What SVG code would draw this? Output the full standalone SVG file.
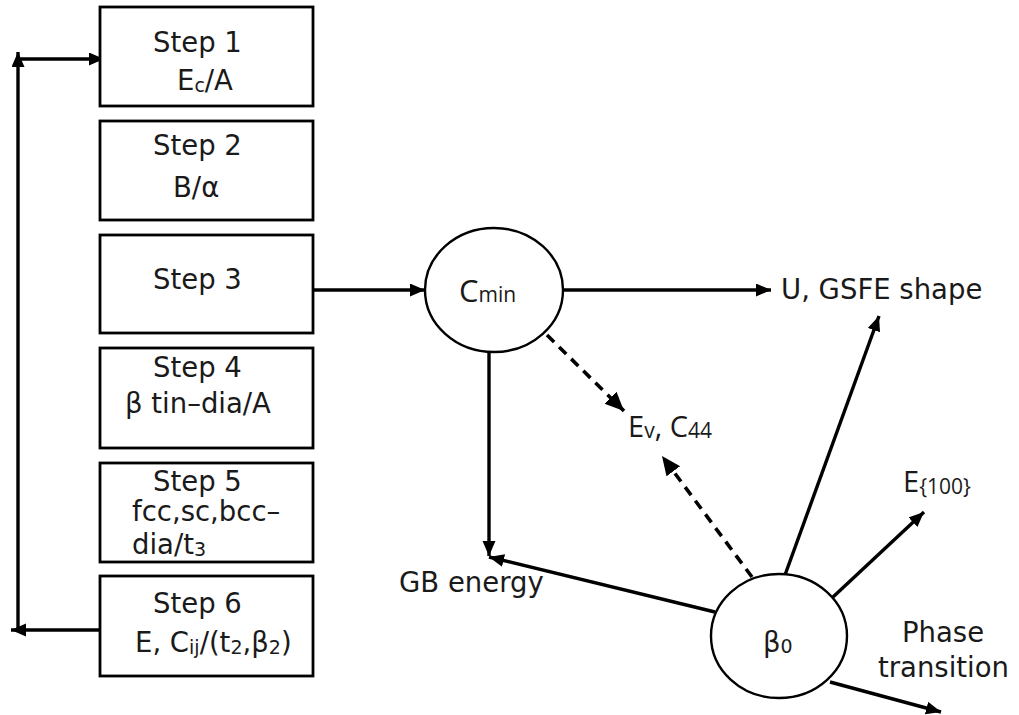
<svg xmlns="http://www.w3.org/2000/svg" width="1019" height="715" viewBox="0 0 1019 715">
  <style>
    .box { fill: #fff; stroke: #000; stroke-width: 2.8; }
    .node { fill: #fff; stroke: #000; stroke-width: 2.4; }
    .lbl { font-family: "DejaVu Sans", "Liberation Sans", sans-serif; font-size: 27.5px; fill: #1a1a1a; }
    .gill { font-family: "Open Sans", "DejaVu Sans", sans-serif; font-size: 29px; fill: #1a1a1a; }
    .sub { font-size: 19px; }
    .gsub { font-size: 21px; }
    .wire { fill: none; stroke: #000; stroke-width: 3.4; }
    .dash { fill: none; stroke: #000; stroke-width: 3.6; stroke-dasharray: 10 7; }
  </style>
  <defs>
    <marker id="arrow" markerUnits="userSpaceOnUse" markerWidth="17" markerHeight="15" refX="15" refY="6.5" orient="auto">
      <path d="M0,0 L15,6.5 L0,13 Z" fill="#000"/>
    </marker>
    <marker id="arrowBig" markerUnits="userSpaceOnUse" markerWidth="21" markerHeight="19" refX="19" refY="8.5" orient="auto">
      <path d="M0,0 L19,8.5 L0,17 Z" fill="#000"/>
    </marker>
  </defs>

  <rect width="1019" height="715" fill="#fff"/>

  <!-- connectors -->
  <g id="connectors">
    <!-- feedback loop from step 6 back to step 1 -->
    <line class="wire" x1="100" y1="630" x2="11" y2="630" marker-end="url(#arrow)"/>
    <line class="wire" x1="18" y1="631" x2="18" y2="52" marker-end="url(#arrow)"/>
    <line class="wire" x1="17" y1="59" x2="104" y2="59" marker-end="url(#arrow)"/>
    <!-- step 3 to C_min -->
    <line class="wire" x1="313" y1="290" x2="425" y2="290" marker-end="url(#arrow)"/>
    <!-- C_min outputs -->
    <line class="wire" x1="563" y1="290" x2="771" y2="290" marker-end="url(#arrow)"/>
    <line class="wire" x1="489" y1="353" x2="489" y2="556" marker-end="url(#arrow)"/>
    <line class="dash" x1="547" y1="335" x2="624" y2="411" marker-end="url(#arrowBig)"/>
    <!-- beta_0 outputs -->
    <line class="wire" x1="715" y1="612" x2="489" y2="557" marker-end="url(#arrow)"/>
    <line class="dash" x1="752" y1="577" x2="662" y2="456" marker-end="url(#arrowBig)"/>
    <line class="wire" x1="785" y1="575" x2="879" y2="316" marker-end="url(#arrow)"/>
    <line class="wire" x1="833" y1="597" x2="924" y2="512" marker-end="url(#arrow)"/>
    <line class="wire" x1="830" y1="682" x2="941" y2="712" marker-end="url(#arrow)"/>
  </g>

  <!-- step boxes -->
  <g id="step1">
    <rect class="box" x="100" y="7" width="213" height="99"/>
    <text class="lbl" x="153" y="52">Step 1</text>
    <text class="lbl" x="177" y="90">E<tspan class="sub" dy="2">c</tspan><tspan dy="-2">/A</tspan></text>
  </g>
  <g id="step2">
    <rect class="box" x="100" y="121" width="213" height="99"/>
    <text class="lbl" x="153" y="155">Step 2</text>
    <text class="lbl" x="173" y="197">B/α</text>
  </g>
  <g id="step3">
    <rect class="box" x="100" y="235" width="213" height="98"/>
    <text class="lbl" x="153" y="289">Step 3</text>
  </g>
  <g id="step4">
    <rect class="box" x="100" y="348" width="213" height="100"/>
    <text class="lbl" x="153" y="377">Step 4</text>
    <text class="lbl" x="125" y="413">β tin–dia/A</text>
  </g>
  <g id="step5">
    <rect class="box" x="100" y="463" width="213" height="99"/>
    <text class="lbl" x="153" y="491">Step 5</text>
    <text class="lbl" x="132" y="521">fcc,sc,bcc–</text>
    <text class="lbl" x="132" y="554">dia/t<tspan class="sub" dy="2">3</tspan></text>
  </g>
  <g id="step6">
    <rect class="box" x="100" y="576" width="213" height="100"/>
    <text class="lbl" x="153" y="613">Step 6</text>
    <text class="lbl" x="135" y="652">E, C<tspan class="sub" dy="2">ij</tspan><tspan dy="-2">/(t</tspan><tspan class="sub" dy="2">2</tspan><tspan dy="-2">,β</tspan><tspan class="sub" dy="2">2</tspan><tspan dy="-2">)</tspan></text>
  </g>

  <!-- circular nodes -->
  <g id="cmin">
    <ellipse class="node" cx="494" cy="290" rx="69" ry="62"/>
    <text class="gill" x="459" y="302" style="font-size:31px">C<tspan class="gsub">min</tspan></text>
  </g>
  <g id="beta0">
    <ellipse class="node" cx="779" cy="636" rx="68" ry="62"/>
    <text class="lbl" x="763" y="652">β<tspan class="sub" dy="1">0</tspan></text>
  </g>

  <!-- result labels -->
  <g id="gsfe">
    <text class="lbl" x="781" y="299">U, GSFE shape</text>
  </g>
  <g id="ev-c44">
    <text class="gill" x="628" y="437">E<tspan class="gsub" dy="1">v</tspan><tspan dy="-1">, C</tspan><tspan class="gsub" dy="1">44</tspan></text>
  </g>
  <g id="gb-energy">
    <text class="lbl" x="399" y="592">GB energy</text>
  </g>
  <g id="e100">
    <text class="gill" x="903" y="492">E<tspan class="gsub" dy="2">{100}</tspan></text>
  </g>
  <g id="phase">
    <text class="lbl" x="902" y="642">Phase</text>
    <text class="lbl" x="878" y="677">transition</text>
  </g>
</svg>
